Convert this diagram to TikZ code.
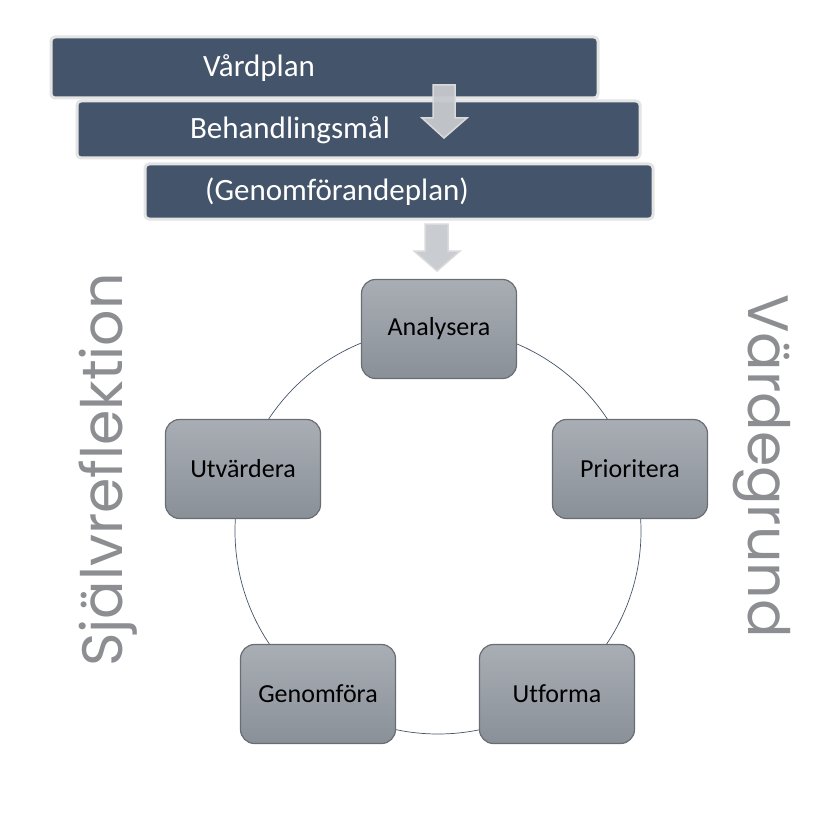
\documentclass[tikz,border=0pt]{standalone}
\usepackage{fontspec}
\setmainfont[Ligatures={NoCommon}]{Carlito}
\newfontfamily\sidefont{Poppins}
\usetikzlibrary{shapes.geometric}
\definecolor{barblue}{HTML}{44546A}
\definecolor{barborder}{HTML}{E4E4E4}
\definecolor{nodetop}{HTML}{A9AEB5}
\definecolor{nodebot}{HTML}{8A9098}
\definecolor{nodeedge}{HTML}{6A6E74}
\definecolor{arrowfill}{HTML}{C6C9CD}
\definecolor{arrowedge}{HTML}{DADADA}
\definecolor{sidegray}{HTML}{8C8E92}
\begin{document}
\begin{tikzpicture}[x=1pt,y=-1pt,
  barbox/.style={draw=barborder, line width=3pt, fill=barblue, rounded corners=4pt},
  bartext/.style={text=white, font=\fontsize{31}{36}\selectfont, inner sep=0pt},
  stepnode/.style={draw=nodeedge, line width=1.2pt, rounded corners=14pt,
    top color=nodetop, bottom color=nodebot, minimum width=155pt, minimum height=99pt,
    font=\fontsize{26}{30}\selectfont, text=black, inner sep=0pt},
  blockarrow/.style={fill=arrowfill, draw=arrowedge, line width=1.5pt, fill opacity=0.95},
  sidetext/.style={text=sidegray, font=\sidefont\fontsize{57}{66}\selectfont, inner sep=0pt}
]
\useasboundingbox (0,0) rectangle (829,821);
% bars
\path[barbox] (51,37) rectangle (598,98);
\path[barbox] (77,101) rectangle (640,158);
\path[barbox] (145,164) rectangle (653,219);
\node[bartext] (vp) at (259,68) {Vårdplan};
\node[bartext] (bm) at (290,130) {Behandlingsmål};
\node[bartext] (gp) at (337,192) {(Genomförandeplan)};
% block arrows
\path[blockarrow] (433,85) -- (455,85) -- (455,118) -- (467,118) -- (444,138) -- (422,118) -- (433,118) -- cycle;
\path[blockarrow] (425,224) -- (448,224) -- (448,251) -- (460,251) -- (437,271) -- (414,251) -- (425,251) -- cycle;
% circle
\coordinate (c) at (438,531);
\draw[barblue, line width=0.7pt] (c) circle[radius=203];
% nodes
\node[stepnode] (an) at (439,329) {Analysera};
\node[stepnode] (pr) at (630,469) {Prioritera};
\node[stepnode] (uf) at (557,694) {Utforma};
\node[stepnode] (gf) at (318,694) {Genomföra};
\node[stepnode] (uv) at (243,469) {Utvärdera};
% side texts
\node[sidetext, rotate=90] (sr) at (108,470) {Självreflektion};
\node[sidetext, rotate=-90] (vg) at (762,466) {Värdegrund};
\end{tikzpicture}
\end{document}
